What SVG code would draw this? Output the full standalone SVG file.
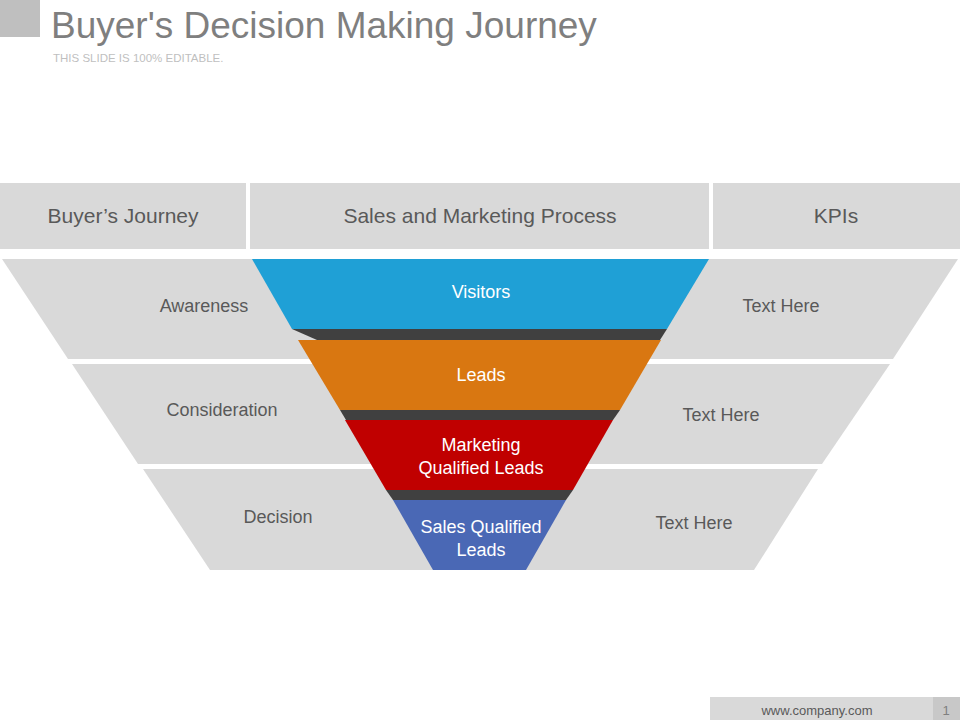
<svg xmlns="http://www.w3.org/2000/svg" width="960" height="720" viewBox="0 0 960 720">
<style>
text{font-family:"Liberation Sans",Arial,sans-serif}
.g{fill:#d9d9d9}
.hd{font-size:21px;fill:#595959;text-anchor:middle}
.lb{font-size:18px;fill:#595959;text-anchor:middle}
.fl{font-size:18px;fill:#ffffff;text-anchor:middle}
.dk{fill:#404040}
</style>
<rect width="960" height="720" fill="#ffffff"/>
<rect x="0" y="0" width="40" height="37" fill="#bfbfbf"/>
<text x="51" y="38" font-size="37" fill="#7f7f7f">Buyer's Decision Making Journey</text>
<text x="53" y="62" font-size="11.5" fill="#bfbfbf">THIS SLIDE IS 100% EDITABLE.</text>
<g id="header">
<rect class="g" x="0" y="183" width="246" height="66"/>
<rect class="g" x="250" y="183" width="459" height="66"/>
<rect class="g" x="713" y="183" width="247" height="66"/>
<text class="hd" x="123" y="223">Buyer’s Journey</text>
<text class="hd" x="480" y="223">Sales and Marketing Process</text>
<text class="hd" x="836" y="223">KPIs</text>
</g>
<g id="band1"><polygon class="g" points="2,259 958,259 893,359 68,359"/>
<text class="lb" x="204" y="312">Awareness</text><text class="lb" x="781" y="312">Text Here</text></g>
<g id="band2"><polygon class="g" points="72,364 890,364 822,464 138,464"/>
<text class="lb" x="222" y="416">Consideration</text><text class="lb" x="721" y="421">Text Here</text></g>
<g id="band3"><polygon class="g" points="143,469 818,469 754,570 210,570"/>
<text class="lb" x="278" y="523">Decision</text><text class="lb" x="694" y="529">Text Here</text></g>
<g id="connectors">
<polygon class="dk" points="292,329 667,329 660,340 317,340"/>
<polygon class="dk" points="340,410 620,410 613,420 346,420"/>
<polygon class="dk" points="386,490 573,490 566,500 393,500"/>
</g>
<g id="visitors"><polygon fill="#1fa0d6" points="252,259 709,259 667,329 292,329"/>
<text class="fl" x="481" y="298">Visitors</text></g>
<g id="leads"><polygon fill="#d97711" points="298,340 661,340 620,410 340,410"/>
<text class="fl" x="481" y="381">Leads</text></g>
<g id="mql"><polygon fill="#c00000" points="345,420 613,420 573,490 386,490"/>
<text class="fl" x="481" y="451">Marketing</text><text class="fl" x="481" y="474">Qualified Leads</text></g>
<g id="sql"><polygon fill="#4a68b5" points="393,500 566,500 526,570 433,570"/>
<text class="fl" x="481" y="533">Sales Qualified</text><text class="fl" x="481" y="556">Leads</text></g>
<g id="footer">
<rect x="710" y="697" width="223" height="23" fill="#d9d9d9"/>
<rect x="933" y="697" width="27" height="23" fill="#c8c8c8"/>
<text x="817" y="715" font-size="13" fill="#595959" text-anchor="middle">www.company.com</text>
<text x="946" y="715" font-size="13" fill="#7f7f7f" text-anchor="middle">1</text>
</g>
</svg>
